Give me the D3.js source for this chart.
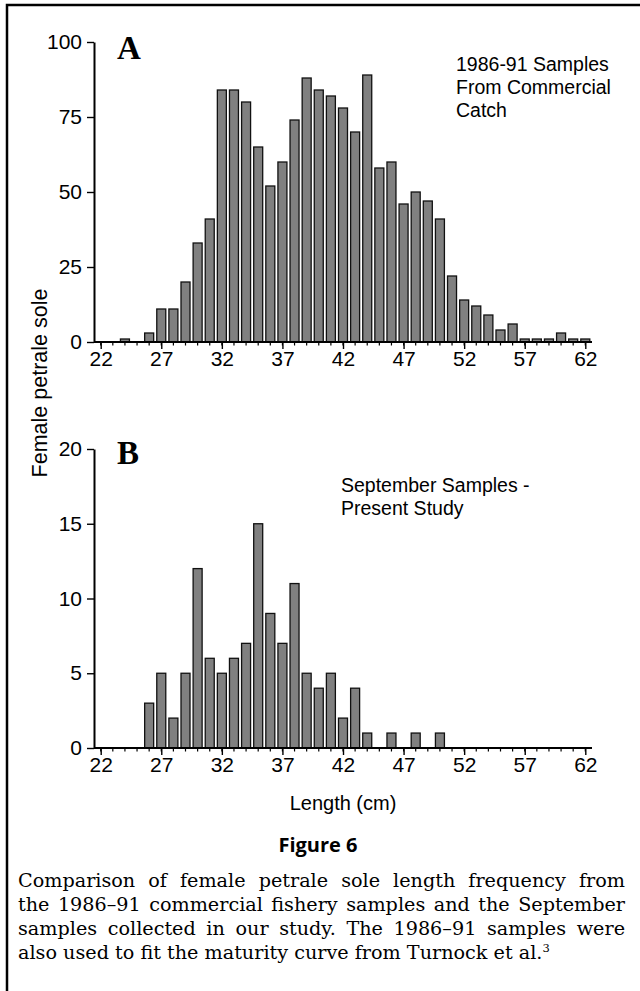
<!DOCTYPE html>
<html>
<head>
<meta charset="utf-8">
<script src="https://cdn.jsdelivr.net/npm/d3@7/dist/d3.min.js"></script>
<style>
  html, body { margin: 0; padding: 0; background: #fff; }
  svg { display: block; }
</style>
</head>
<body>
<div id="chart"></div>
<script>
// Length-frequency histograms of female petrale sole, two stacked panels
// sharing one length axis (cm), with the figure caption underneath.
var lengths = [22, 23, 24, 25, 26, 27, 28, 29, 30, 31, 32, 33, 34, 35, 36, 37, 38, 39, 40, 41, 42,
               43, 44, 45, 46, 47, 48, 49, 50, 51, 52, 53, 54, 55, 56, 57, 58, 59, 60, 61, 62];
var countsA = [0, 0, 1, 0, 3, 11, 11, 20, 33, 41, 84, 84, 80, 65, 52, 60, 74, 88, 84, 82, 78,
               70, 89, 58, 60, 46, 50, 47, 41, 22, 14, 12, 9, 4, 6, 1, 1, 1, 3, 1, 1];
var countsB = [0, 0, 0, 0, 3, 5, 2, 5, 12, 6, 5, 6, 7, 15, 9, 7, 11, 5, 4, 5, 2,
               4, 1, 0, 1, 0, 1, 0, 1, 0, 0, 0, 0, 0, 0, 0, 0, 0, 0, 0, 0];
var xMajorTicks = [22, 27, 32, 37, 42, 47, 52, 57, 62];
var yTicksA = [0, 25, 50, 75, 100];
var yTicksB = [0, 5, 10, 15, 20];
var labelA = ['1986-91 Samples', 'From Commercial', 'Catch'];
var labelB = ['September Samples -', 'Present Study'];
var captionTitle = 'Figure 6';
var captionLines = [
  'Comparison of female petrale sole length frequency from',
  'the 1986\u201391 commercial fishery samples and the September',
  'samples collected in our study. The 1986\u201391 samples were',
  'also used to fit the maturity curve from Turnock et al.'
];

(function () {
    var W = 640, H = 991;
    var sans = '"Liberation Sans", Arial, sans-serif';
    var serif = '"Liberation Serif", "Times New Roman", serif';
    var capSerif = '"DejaVu Serif", serif';

    var svg = d3.select('#chart').append('svg')
        .attr('width', W).attr('height', H)
        .attr('viewBox', '0 0 ' + W + ' ' + H);

    // page frame (right and bottom edges fall outside the crop)
    svg.append('rect')
        .attr('x', 7).attr('y', 5).attr('width', 700).attr('height', 1100)
        .attr('fill', 'none').attr('stroke', '#000').attr('stroke-width', 2.5);

    var x = d3.scaleLinear().domain([22, 62]).range([100.7, 585.3]);
    var axisX0 = 94, axisX1 = 592;
    var barW = 9;
    var tickFont = 21;

    var panels = [
        { key: 'A', counts: countsA, max: 100, ticks: yTicksA, top: 42, bottom: 342,
          note: labelA, noteX: 456, noteY: 71, letterY: 59 },
        { key: 'B', counts: countsB, max: 20, ticks: yTicksB, top: 449, bottom: 748,
          note: labelB, noteX: 341, noteY: 492, letterY: 464 }
    ];

    panels.forEach(function (p) {
        var y = d3.scaleLinear().domain([0, p.max]).range([p.bottom, p.top]);
        var g = svg.append('g');

        var data = lengths.map(function (d, i) { return { len: d, n: p.counts[i] }; })
            .filter(function (d) { return d.n > 0; });

        g.selectAll('rect.bar').data(data).enter().append('rect')
            .attr('class', 'bar')
            .attr('x', function (d) { return x(d.len) - barW / 2; })
            .attr('y', function (d) { return y(d.n); })
            .attr('width', barW)
            .attr('height', function (d) { return p.bottom - y(d.n); })
            .attr('fill', '#808080').attr('stroke', '#111').attr('stroke-width', 1.3);

        // minor ticks every cm
        g.selectAll('line.minor').data(lengths).enter().append('line')
            .attr('x1', function (d) { return x(d); }).attr('x2', function (d) { return x(d); })
            .attr('y1', p.bottom).attr('y2', p.bottom + 3.5)
            .attr('stroke', '#000').attr('stroke-width', 1.2);

        // x axis
        var xAxisG = g.append('g')
            .attr('transform', 'translate(0,' + p.bottom + ')')
            .call(d3.axisBottom(x).tickValues(xMajorTicks).tickSize(7)
                .tickSizeOuter(0).tickPadding(2));
        xAxisG.select('.domain').remove();
        g.append('line')
            .attr('x1', axisX0).attr('x2', axisX1)
            .attr('y1', p.bottom).attr('y2', p.bottom)
            .attr('stroke', '#000').attr('stroke-width', 2);

        // y axis
        var yAxisG = g.append('g')
            .attr('transform', 'translate(' + axisX0 + ',0)')
            .call(d3.axisLeft(y).tickValues(p.ticks).tickSize(7)
                .tickSizeOuter(0).tickPadding(5));
        yAxisG.select('.domain').attr('stroke-width', 2);

        [xAxisG, yAxisG].forEach(function (ax) {
            ax.selectAll('line').attr('stroke', '#000').attr('stroke-width', 1.4);
            ax.selectAll('text').attr('font-family', sans).attr('font-size', tickFont)
                .attr('fill', '#000');
        });

        // panel letter
        svg.append('text')
            .attr('x', 117).attr('y', p.letterY)
            .attr('font-family', serif).attr('font-weight', 'bold')
            .attr('font-size', 33).text(p.key);

        // panel note
        var note = svg.append('text')
            .attr('font-family', sans).attr('font-size', 19.5);
        p.note.forEach(function (t, i) {
            note.append('tspan').attr('x', p.noteX).attr('y', p.noteY + i * 23).text(t);
        });
    });

    // shared axis titles
    svg.append('text')
        .attr('transform', 'translate(47,383) rotate(-90)')
        .attr('text-anchor', 'middle')
        .attr('font-family', sans).attr('font-size', 21.5)
        .text('Female petrale sole');
    svg.append('text')
        .attr('x', x(42)).attr('y', 810)
        .attr('text-anchor', 'middle')
        .attr('font-family', sans).attr('font-size', 20)
        .text('Length (cm)');

    // caption
    svg.append('text')
        .attr('x', 318).attr('y', 852)
        .attr('text-anchor', 'middle')
        .attr('font-family', '"Open Sans", "Noto Sans", sans-serif')
        .attr('font-weight', 'bold').attr('font-size', 20)
        .text(captionTitle);

    var capLeft = 18, capRight = 625, capY0 = 887, capDY = 24, capSize = 19.2;
    captionLines.forEach(function (line, li) {
        var words = line.split(' ');
        var t = svg.append('text')
            .attr('font-family', capSerif).attr('font-size', capSize)
            .attr('y', capY0 + li * capDY);
        var last = li === captionLines.length - 1;
        if (last) {
            t.attr('x', capLeft).text(line);
            t.append('tspan').attr('font-size', capSize * 0.6).attr('dy', -7).text('3');
            return;
        }
        // justify: measure words then spread the gaps
        var widths = words.map(function (w) {
            var tmp = svg.append('text').attr('font-family', capSerif)
                .attr('font-size', capSize).text(w);
            var wd = tmp.node().getComputedTextLength();
            tmp.remove();
            return wd;
        });
        var total = d3.sum(widths);
        var gap = (capRight - capLeft - total) / (words.length - 1);
        var cx = capLeft;
        words.forEach(function (w, i) {
            t.append('tspan').attr('x', cx).text(w);
            cx += widths[i] + gap;
        });
    });
})();
</script>
</body>
</html>
